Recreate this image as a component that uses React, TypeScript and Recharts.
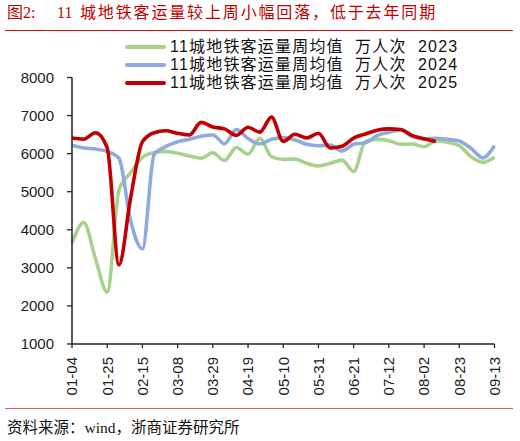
import React from 'react';
import { LineChart, Line, XAxis, YAxis, Legend } from 'recharts';

const weeks = [
  '01-04', '01-11', '01-18', '01-25', '02-01', '02-08', '02-15', '02-22', '03-01',
  '03-08', '03-15', '03-22', '03-29', '04-05', '04-12', '04-19', '04-26', '05-03',
  '05-10', '05-17', '05-24', '05-31', '06-07', '06-14', '06-21', '06-28', '07-05',
  '07-12', '07-19', '07-26', '08-02', '08-09', '08-16', '08-23', '08-30', '09-06', '09-13',
];

const tickLabels = [
  '01-04', '01-25', '02-15', '03-08', '03-29', '04-19', '05-10',
  '05-31', '06-21', '07-12', '08-02', '08-23', '09-13',
];

const yTicks = [1000, 2000, 3000, 4000, 5000, 6000, 7000, 8000];

const metro2023 = [
  3640, 4190, 3240, 2360, 5040, 5500, 5900, 6030, 6060, 6010, 5940, 5880, 6020,
  5820, 6160, 5985, 6400, 5920, 5850, 5860, 5745, 5675, 5745, 5830, 5530, 6320,
  6376, 6340, 6245, 6253, 6183, 6332, 6297, 6209, 5920, 5771, 5903,
];

const metro2024 = [
  6220, 6150, 6120, 6060, 5880, 4230, 3500, 5980, 6190, 6314, 6376, 6455, 6490,
  6260, 6630, 6400, 6253, 6376, 6420, 6359, 6245, 6209, 6227, 6070, 6245, 6288,
  6472, 6560, 6620, 6446, 6385, 6403, 6376, 6332, 6140, 5890, 6209,
];

const metro2025 = [
  6410, 6380, 6550, 6150, 3080, 4850, 6310, 6550, 6600, 6534, 6490, 6820, 6700,
  6650, 6480, 6695, 6565, 6960, 6320, 6508, 6415, 6534, 6150, 6195, 6410, 6516,
  6615, 6650, 6635, 6472, 6390, 6320,
];

const seriesNames = [
  '11城地铁客运量周均值  万人次  2023',
  '11城地铁客运量周均值  万人次  2024',
  '11城地铁客运量周均值  万人次  2025',
];

const seriesColors = ['#A9D18E', '#8FAADC', '#C00000'];

const data = weeks.map((w, i) => ({
  date: w,
  y2023: metro2023[i] ?? null,
  y2024: metro2024[i] ?? null,
  y2025: metro2025[i] ?? null,
}));

const sansFont = "'Liberation Sans', 'Noto Sans CJK SC', sans-serif";
const serifFont = "'Liberation Serif', 'Noto Sans CJK SC', serif";
const axisColor = '#222';

const XTick = (props: any) => {
  const { x, y, payload } = props;
  return (
    <text
      x={x}
      y={y}
      transform={`rotate(-90, ${x}, ${y})`}
      textAnchor="end"
      dy="0.36em"
      fontSize={15}
      fontFamily={sansFont}
      fill={axisColor}
    >
      {payload.value}
    </text>
  );
};

const LegendContent = (props: any) => {
  const { payload } = props;
  return (
    <div>
      {(payload || []).map((entry: any, idx: number) => (
        <div
          key={idx}
          style={{ display: 'flex', alignItems: 'center', height: 18.3 }}
        >
          <div
            style={{
              width: 41,
              height: 4,
              background: entry.color,
              borderRadius: 2,
              marginRight: 4,
            }}
          />
          <span
            style={{
              fontFamily: sansFont,
              fontSize: 16,
              letterSpacing: 1.2,
              whiteSpace: 'pre',
              color: '#111',
              lineHeight: '18px',
            }}
          >
            {entry.value}
          </span>
        </div>
      ))}
    </div>
  );
};

export default function App() {
  return (
    <div
      style={{
        position: 'absolute',
        left: 0,
        top: 0,
        width: 520,
        height: 441,
        background: '#fff',
        overflow: 'hidden',
      }}
    >
      {/* Title */}
      <div
        style={{
          position: 'absolute',
          top: 4,
          left: 0,
          height: 18,
          fontFamily: serifFont,
          fontSize: 16,
          lineHeight: '18px',
          color: '#C00000',
          whiteSpace: 'pre',
        }}
      >
        <span style={{ position: 'absolute', left: 7 }}>图2:</span>
        <span style={{ position: 'absolute', left: 57 }}>11</span>
        <span style={{ position: 'absolute', left: 80, letterSpacing: 1.85 }}>
          城地铁客运量较上周小幅回落，低于去年同期
        </span>
      </div>
      <div
        style={{
          position: 'absolute',
          top: 30,
          left: 5,
          width: 508,
          height: 1.3,
          background: '#D01818',
        }}
      />

      <div style={{ position: 'absolute', left: 0, top: 0 }}>
        <LineChart
          width={520}
          height={441}
          data={data}
          margin={{ top: 77.5, right: 25.5, bottom: 37, left: 0 }}
        >
          <XAxis
            dataKey="date"
            ticks={tickLabels}
            interval={0}
            height={60}
            tick={<XTick />}
            tickSize={4}
            tickMargin={9}
            axisLine={{ stroke: axisColor, strokeWidth: 1.5 }}
            tickLine={{ stroke: axisColor, strokeWidth: 1.3 }}
          />
          <YAxis
            domain={[1000, 8000]}
            ticks={yTicks}
            interval={0}
            width={72}
            tickSize={5}
            tickMargin={13}
            tick={{ fontSize: 15, fontFamily: sansFont, fill: axisColor }}
            axisLine={{ stroke: axisColor, strokeWidth: 1.5 }}
            tickLine={{ stroke: axisColor, strokeWidth: 1.3 }}
          />
          <Legend
            layout="horizontal"
            verticalAlign="middle"
            align="center"
            content={<LegendContent />}
            wrapperStyle={{ top: 37.5, left: 125, width: 380, height: 55 }}
          />
          <Line
            type="monotone"
            dataKey="y2023"
            name={seriesNames[0]}
            stroke={seriesColors[0]}
            strokeWidth={3.6}
            dot={false}
            isAnimationActive={false}
          />
          <Line
            type="monotone"
            dataKey="y2024"
            name={seriesNames[1]}
            stroke={seriesColors[1]}
            strokeWidth={3.6}
            dot={false}
            isAnimationActive={false}
          />
          <Line
            type="monotone"
            dataKey="y2025"
            name={seriesNames[2]}
            stroke={seriesColors[2]}
            strokeWidth={3.6}
            dot={false}
            isAnimationActive={false}
          />
        </LineChart>
      </div>

      <div
        style={{
          position: 'absolute',
          top: 408,
          left: 5,
          width: 508,
          height: 1.3,
          background: '#E05A5A',
        }}
      />
      <div
        style={{
          position: 'absolute',
          top: 419,
          left: 7,
          fontFamily: serifFont,
          fontSize: 15.5,
          lineHeight: '18px',
          color: '#111',
          whiteSpace: 'pre',
        }}
      >
        资料来源：wind，浙商证券研究所
      </div>
    </div>
  );
}
